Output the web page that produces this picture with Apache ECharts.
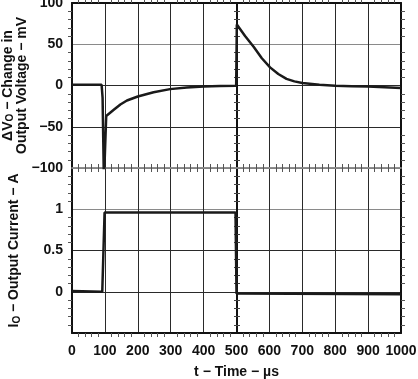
<!DOCTYPE html>
<html>
<head>
<meta charset="utf-8">
<script src="https://cdn.jsdelivr.net/npm/echarts@6/dist/echarts.min.js"></script>
<style>html,body{margin:0;padding:0;background:#fff}#c{width:418px;height:379px}</style>
</head>
<body>
<div id="c"></div>
<script>
// Time axis ticks (µs)
const timeTicks = [0, 100, 200, 300, 400, 500, 600, 700, 800, 900, 1000];
// Top panel: change in output voltage (mV) vs time (µs)
const voltageTime = [0, 90, 93, 97, 104, 107, 127, 147, 167, 200, 248, 298, 349, 400, 450, 499, 501, 526, 552, 577, 602, 627, 652, 676, 700, 752, 800, 850, 900, 950, 1000];
const voltageMv  = [1, 0.8, -15, -117, -37, -37.6, -29.5, -23, -18.2, -13.3, -8.1, -4.4, -2.4, -1.2, -0.7, -0.4, 74, 60, 47, 33, 22, 14, 8, 5, 3, 0.8, -0.3, -0.8, -1.2, -2, -3];
// Bottom panel: output current (A) vs time (µs)
const currentTime = [0, 92, 99, 497, 500, 1000];
const currentA    = [0.01, 0.0, 0.96, 0.96, -0.02, -0.03];
// Y tick labels
const voltageTicks = [-100, -50, 0, 50, 100];
const currentTickLabels = [0, 0.5, 1];

const FONT = '"Liberation Sans", Arial, Helvetica, sans-serif';
const GRID_DARK = '#2a2a2a';
const GRID_LIGHT = '#8a8a8a';

function pairs(xs, ys){ return xs.map((x,i)=>[x, ys[i]]); }

const minorX = {show:true, splitNumber:5, length:4, lineStyle:{color:'#555', width:1}};
function xAx(grid, pos, showLabel, lineColor){
  return {
    type:'value', gridIndex:grid, position:pos, min:0, max:1000, interval:100,
    axisLine:{show:true, onZero:false, lineStyle:{color:lineColor, width:2}},
    axisTick:{show:false},
    minorTick:Object.assign({}, minorX),
    splitLine:{show: pos==='bottom', lineStyle:{color:GRID_DARK, width:1}},
    axisLabel:{show:showLabel, color:'#111', fontFamily:FONT, fontWeight:'bold', fontSize:14, margin:11,
      formatter:v => timeTicks.includes(v) ? String(v) : ''}
  };
}
function yAx(grid, pos, opts){
  return Object.assign({
    type:'value', gridIndex:grid, position:pos,
    axisLine:{show:true, onZero:false, lineStyle:{color:'#111', width:2}},
    axisTick:{show:false},
    minorTick:{show:true, splitNumber:5, length:4, lineStyle:{color:'#555', width:1}},
    splitLine:{show:false},
    axisLabel:{show:false}
  }, opts);
}

const vRange = {min:-100, max:100, interval:50};
const iRange = {min:-0.5, max:1.5, interval:0.5};

const option = {
  animation:false,
  backgroundColor:'#fff',
  grid:[
    {left:72, right:17, top:3, height:165, outerBoundsMode:'none', containLabel:false},
    {left:72, right:17, top:168, height:165, outerBoundsMode:'none', containLabel:false}
  ],
  xAxis:[
    Object.assign(xAx(0,'bottom',false,'#777'), {axisLine:{show:true,onZero:false,lineStyle:{color:'#888',width:1.5}}}),
    xAx(0,'top',false,'#111'),
    Object.assign(xAx(1,'bottom',true,'#111'), {
      name:'t − Time − µs', nameLocation:'middle', nameGap:32, nameMoveOverlap:false,
      nameTextStyle:{color:'#111', fontFamily:FONT, fontWeight:'bold', fontSize:14}
    }),
    Object.assign(xAx(1,'top',false,'#888'), {axisLine:{show:true,onZero:false,lineStyle:{color:'#888',width:1.5}}})
  ],
  yAxis:[
    yAx(0,'left', Object.assign({}, vRange, {
      splitLine:{show:true, lineStyle:{color:[GRID_DARK, GRID_DARK, GRID_DARK, GRID_LIGHT, GRID_DARK], width:1}},
      axisLabel:{show:true, color:'#111', fontFamily:FONT, fontWeight:'bold', fontSize:14, margin:9,
        formatter:v => voltageTicks.includes(v) ? String(v).replace('-', '−') : ''},
      name:'{a|ΔV}{s|O}{a| − Change in}\n{a|Output Voltage − mV}', nameLocation:'middle', nameGap:43, nameRotate:90, nameMoveOverlap:false,
      nameTextStyle:{color:'#111', fontFamily:FONT, fontWeight:'bold', fontSize:14, lineHeight:14,
        rich:{a:{fontFamily:FONT, fontWeight:'bold', fontSize:14, color:'#111', lineHeight:14},
              s:{fontFamily:FONT, fontWeight:'bold', fontSize:10, color:'#111', verticalAlign:'bottom', lineHeight:14, padding:[5,0,0,0]}}}
    })),
    yAx(0,'right', Object.assign({}, vRange)),
    yAx(0,'left', Object.assign({}, vRange, {offset:-165, minorTick:{show:true, splitNumber:5, length:3, lineStyle:{color:'#444',width:1}}})),
    yAx(0,'right', Object.assign({}, vRange, {offset:-165, axisLine:{show:false}, minorTick:{show:true, splitNumber:5, length:3, lineStyle:{color:'#444',width:1}}})),
    yAx(1,'left', Object.assign({}, iRange, {
      splitLine:{show:true, lineStyle:{color:[GRID_DARK, GRID_DARK, GRID_DARK, GRID_LIGHT, GRID_DARK], width:1}},
      axisLabel:{show:true, color:'#111', fontFamily:FONT, fontWeight:'bold', fontSize:14, margin:9,
        formatter:v => currentTickLabels.includes(v) ? String(v) : ''},
      name:'{a|I}{s|O}{a| − Output Current − A}', nameLocation:'middle', nameGap:50, nameRotate:90, nameMoveOverlap:false,
      nameTextStyle:{color:'#111', fontFamily:FONT, fontWeight:'bold', fontSize:14,
        rich:{a:{fontFamily:FONT, fontWeight:'bold', fontSize:14, color:'#111', lineHeight:15},
              s:{fontFamily:FONT, fontWeight:'bold', fontSize:10, color:'#111', verticalAlign:'bottom', lineHeight:15, padding:[5,0,0,0]}}}
    })),
    yAx(1,'right', Object.assign({}, iRange)),
    yAx(1,'left', Object.assign({}, iRange, {offset:-165, minorTick:{show:true, splitNumber:5, length:3, lineStyle:{color:'#444',width:1}}})),
    yAx(1,'right', Object.assign({}, iRange, {offset:-165, axisLine:{show:false}, minorTick:{show:true, splitNumber:5, length:3, lineStyle:{color:'#444',width:1}}}))
  ],
  series:[
    {type:'line', xAxisIndex:0, yAxisIndex:0, data:pairs(voltageTime, voltageMv), showSymbol:false, symbol:'none',
      lineStyle:{color:'#1a1a1a', width:2.5}, z:5, silent:true},
    {type:'line', xAxisIndex:2, yAxisIndex:4, data:pairs(currentTime, currentA), showSymbol:false, symbol:'none',
      lineStyle:{color:'#1a1a1a', width:2.5}, z:5, silent:true}
  ]
};
const chart = echarts.init(document.getElementById('c'), null, {renderer:'canvas'});
chart.setOption(option);
</script>
</body>
</html>
